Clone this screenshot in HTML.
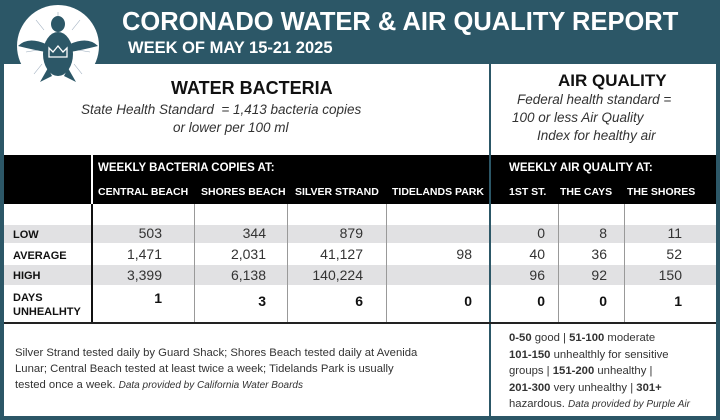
<!DOCTYPE html>
<html><head><meta charset="utf-8"><style>
*{margin:0;padding:0;box-sizing:border-box}
body{width:720px;height:420px;background:#2c5767;position:relative;overflow:hidden;font-family:"Liberation Sans",sans-serif;color:#222}
.a{position:absolute;white-space:nowrap}
.panel{position:absolute;left:4px;top:64px;width:712px;height:352px;background:#fff}
.t{color:#fff;font-weight:bold}
.hb{background:#000;position:absolute;top:155px;height:49px}
.wh{color:#fff;font-weight:bold;font-size:10.5px}
.band{position:absolute;left:4px;width:712px;background:#e1e1e3}
.vl{position:absolute;width:1px;background:#999;top:204px;height:119px}
.lbl{font-weight:bold;font-size:11px;color:#111}
.n{font-size:14px;text-align:right;color:#333}
.b{font-weight:bold;font-size:14px;text-align:right;color:#111}
</style></head><body>
<div class="panel"></div>
<!-- logo -->
<svg class="a" style="left:14px;top:2px" width="90" height="90" viewBox="0 0 90 90">
<circle cx="44" cy="44" r="41" fill="#fff"/>
<g stroke="#9ab" stroke-width="0.6">
<line x1="44" y1="22" x2="44" y2="10"/><line x1="30" y1="28" x2="22" y2="18"/><line x1="58" y1="28" x2="66" y2="18"/>
<line x1="28" y1="62" x2="20" y2="72"/><line x1="60" y1="62" x2="68" y2="72"/><line x1="24" y1="48" x2="12" y2="50"/><line x1="64" y1="48" x2="76" y2="50"/></g>
<ellipse cx="44" cy="22" rx="7" ry="8" fill="#2c5767"/>
<ellipse cx="44" cy="52" rx="15" ry="22" fill="#2c5767"/>
<path d="M32 42 Q14 34 4 44 Q20 48 32 50Z M56 42 Q74 34 84 44 Q68 48 56 50Z" fill="#2c5767"/>
<path d="M34 66 L26 80 L38 74Z M54 66 L62 80 L50 74Z" fill="#2c5767"/>
<path d="M35 55 L35 46 L39 50 L44 44 L49 50 L53 46 L53 55Z" fill="none" stroke="#fff" stroke-width="1.3"/>
</svg>
<div class="a t" style="left:122px;top:8px;font-size:25.5px">CORONADO WATER &amp; AIR QUALITY REPORT</div>
<div class="a t" style="left:128px;top:39px;font-size:16.5px">WEEK OF MAY 15-21 2025</div>
<!-- headings -->
<div class="a" style="left:171px;top:78px;font-size:18px;font-weight:bold;color:#111">WATER BACTERIA</div>
<div class="a" style="left:81px;top:102px;font-size:13.5px;font-style:italic;color:#333">State Health Standard&nbsp; = 1,413 bacteria copies</div>
<div class="a" style="left:173px;top:120px;font-size:13.5px;font-style:italic;color:#333">or lower per 100 ml</div>
<div class="a" style="left:558px;top:71px;font-size:17px;font-weight:bold;color:#111">AIR QUALITY</div>
<div class="a" style="left:517px;top:92px;font-size:13.5px;font-style:italic;color:#333">Federal health standard =</div>
<div class="a" style="left:512px;top:110px;font-size:13.5px;font-style:italic;color:#333">100 or less Air Quality</div>
<div class="a" style="left:537px;top:128px;font-size:13.5px;font-style:italic;color:#333">Index for healthy air</div>
<!-- black header -->
<div class="hb" style="left:4px;width:712px"></div>
<div class="a" style="left:91px;top:155px;width:2px;height:49px;background:#fff"></div>
<div class="a wh" style="left:98px;top:162px;font-size:11.5px">WEEKLY BACTERIA COPIES AT:</div>
<div class="a wh" style="left:98px;top:186px">CENTRAL BEACH</div>
<div class="a wh" style="left:201px;top:186px">SHORES BEACH</div>
<div class="a wh" style="left:295px;top:186px">SILVER STRAND</div>
<div class="a wh" style="left:392px;top:186px">TIDELANDS PARK</div>
<div class="a wh" style="left:509px;top:162px;font-size:11.5px">WEEKLY AIR QUALITY AT:</div>
<div class="a wh" style="left:509px;top:186px">1ST ST.</div>
<div class="a wh" style="left:560px;top:186px">THE CAYS</div>
<div class="a wh" style="left:627px;top:186px">THE SHORES</div>
<!-- bands -->
<div class="band" style="top:225px;height:18px"></div>
<div class="band" style="top:265px;height:20px"></div>
<div class="vl" style="left:194px"></div><div class="vl" style="left:287px"></div><div class="vl" style="left:386px"></div>
<div class="vl" style="left:558px"></div><div class="vl" style="left:624px"></div>
<div class="a" style="left:91px;top:204px;width:2px;height:119px;background:#111"></div>
<div class="a" style="left:489px;top:64px;width:2px;height:352px;background:#2c5767"></div>
<div class="a" style="left:4px;top:322px;width:712px;height:2px;background:#222"></div>
<!-- labels -->
<div class="a lbl" style="left:13px;top:229px">LOW</div>
<div class="a lbl" style="left:13px;top:250px">AVERAGE</div>
<div class="a lbl" style="left:13px;top:270px">HIGH</div>
<div class="a lbl" style="left:13px;top:291px;line-height:14px">DAYS<br>UNHEALHTY</div>
<!-- numbers -->
<div class="a n" style="left:100px;width:62px;top:225px">503</div>
<div class="a n" style="left:200px;width:66px;top:225px">344</div>
<div class="a n" style="left:290px;width:73px;top:225px">879</div>
<div class="a n" style="left:100px;width:62px;top:246px">1,471</div>
<div class="a n" style="left:200px;width:66px;top:246px">2,031</div>
<div class="a n" style="left:290px;width:73px;top:246px">41,127</div>
<div class="a n" style="left:400px;width:72px;top:246px">98</div>
<div class="a n" style="left:100px;width:62px;top:267px">3,399</div>
<div class="a n" style="left:200px;width:66px;top:267px">6,138</div>
<div class="a n" style="left:290px;width:73px;top:267px">140,224</div>
<div class="a b" style="left:100px;width:62px;top:290px">1</div>
<div class="a b" style="left:200px;width:66px;top:293px">3</div>
<div class="a b" style="left:290px;width:73px;top:293px">6</div>
<div class="a b" style="left:400px;width:72px;top:293px">0</div>
<div class="a n" style="left:500px;width:45px;top:225px">0</div>
<div class="a n" style="left:560px;width:47px;top:225px">8</div>
<div class="a n" style="left:630px;width:52px;top:225px">11</div>
<div class="a n" style="left:500px;width:45px;top:246px">40</div>
<div class="a n" style="left:560px;width:47px;top:246px">36</div>
<div class="a n" style="left:630px;width:52px;top:246px">52</div>
<div class="a n" style="left:500px;width:45px;top:267px">96</div>
<div class="a n" style="left:560px;width:47px;top:267px">92</div>
<div class="a n" style="left:630px;width:52px;top:267px">150</div>
<div class="a b" style="left:500px;width:45px;top:293px">0</div>
<div class="a b" style="left:560px;width:47px;top:293px">0</div>
<div class="a b" style="left:630px;width:52px;top:293px">1</div>
<!-- notes -->
<div class="a" style="left:15px;top:345px;font-size:11.3px;line-height:16px;color:#333">Silver Strand tested daily by Guard Shack; Shores Beach tested daily at Avenida<br>Lunar; Central Beach tested at least twice a week; Tidelands Park is usually<br>tested once a week. <i style="font-size:10px">Data provided by California Water Boards</i></div>
<div class="a" style="left:509px;top:330px;font-size:11.3px;line-height:16.5px;color:#333"><b>0-50</b> good | <b>51-100</b> moderate<br><b>101-150</b> unhealthly for sensitive<br>groups | <b>151-200</b> unhealthy |<br><b>201-300</b> very unhealthy | <b>301+</b><br>hazardous. <i style="font-size:10px">Data provided by Purple Air</i></div>
</body></html>
